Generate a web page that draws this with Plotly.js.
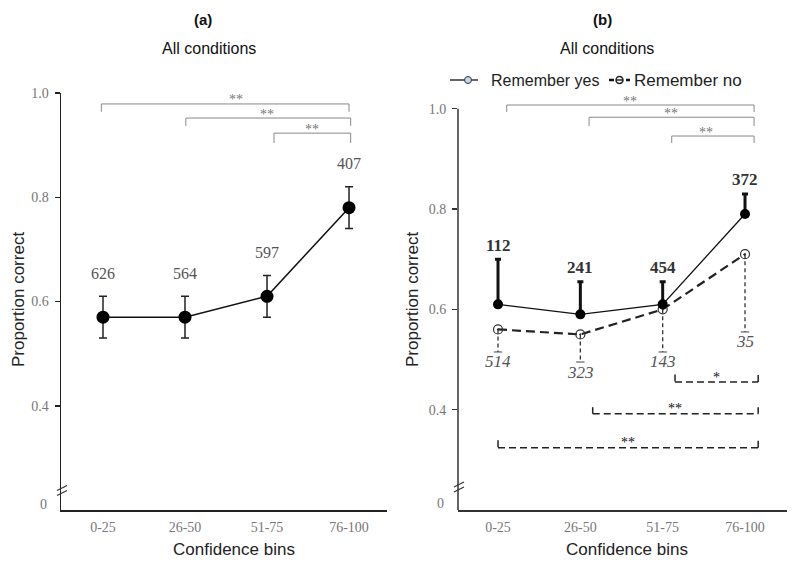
<!DOCTYPE html>
<html>
<head>
<meta charset="utf-8">
<script src="https://cdn.plot.ly/plotly-3.0.1.min.js"></script>
<style>
  html, body { margin: 0; padding: 0; background: #fff; }
  #chart { width: 800px; height: 567px; }
</style>
</head>
<body>
<div id="chart"></div>
<script>
// Confidence bins shared by both panels
const bins = ['0-25', '26-50', '51-75', '76-100'];

// Panel (a): all conditions
const allProp = [0.57, 0.57, 0.61, 0.78];
const allErr = [0.04, 0.04, 0.04, 0.04];
const allN = [626, 564, 597, 407];

// Panel (b): split by "remember" response
const yesProp = [0.61, 0.59, 0.61, 0.79];
const yesErrUp = [0.09, 0.065, 0.045, 0.04];
const yesN = [112, 241, 454, 372];

const noProp = [0.56, 0.55, 0.60, 0.71];
const noErrDown = [0.045, 0.055, 0.085, 0.155];
const noN = [514, 323, 143, 35];

// Y tick labels (the axis is broken below 0.4)
const yTickVals = [0.4, 0.6, 0.8, 1.0];
const yTickText = ['0.4', '0.6', '0.8', '1.0'];

// Pixel -> paper helpers for the decorations
const W = 800, H = 567;
const px = x => x / W;
const py = y => 1 - y / H;

const SANS = 'Liberation Sans, Arial, sans-serif';
const SERIF = 'Liberation Serif, Times New Roman, serif';

const traces = [];

// ---- Panel (a)
traces.push({
  type: 'scatter', mode: 'lines+markers',
  x: bins, y: allProp, xaxis: 'x', yaxis: 'y',
  line: { color: '#111', width: 1.5 },
  marker: { color: '#000', size: 13 },
  error_y: { type: 'data', array: allErr, color: '#222', thickness: 1.5, width: 4 },
  showlegend: false, hoverinfo: 'skip'
});

// ---- Panel (b): remember no (dashed line, open markers, dashed downward bars)
noProp.forEach((v, i) => {
  traces.push({
    type: 'scatter', mode: 'lines+markers',
    x: [bins[i], bins[i]], y: [v, v - noErrDown[i]],
    xaxis: 'x2', yaxis: 'y2',
    line: { color: '#333', width: 1.3, dash: '4px,3px' },
    marker: { symbol: ['circle', 'line-ew-open'], size: [0, 6], color: '#333', line: { color: '#333', width: 1.3 } },
    showlegend: false, hoverinfo: 'skip'
  });
});
traces.push({
  type: 'scatter', mode: 'lines+markers',
  x: bins, y: noProp, xaxis: 'x2', yaxis: 'y2',
  line: { color: '#222', width: 2.2, dash: '9px,5px' },
  marker: { symbol: 'circle-open-dot', size: 9, color: '#333', line: { width: 1.2, color: '#333' } },
  showlegend: false, hoverinfo: 'skip'
});

// ---- Panel (b): remember yes (solid line, filled markers, upward bars)
traces.push({
  type: 'scatter', mode: 'lines+markers',
  x: bins, y: yesProp, xaxis: 'x2', yaxis: 'y2',
  line: { color: '#111', width: 1.3 },
  marker: { color: '#000', size: 10 },
  error_y: {
    type: 'data', symmetric: false, array: yesErrUp,
    arrayminus: yesProp.map(() => 0), color: '#111', thickness: 3, width: 3
  },
  showlegend: false, hoverinfo: 'skip'
});

const annotations = [];
const shapes = [];

// Panel headings
[['<b>(a)</b>', 203, 19, 15], ['All conditions', 209, 48, 16],
 ['<b>(b)</b>', 602, 19, 15], ['All conditions', 607, 48, 16]].forEach(([t, x, y, s]) => {
  annotations.push({ text: t, xref: 'paper', yref: 'paper', x: px(x), y: py(y),
    xanchor: 'center', yanchor: 'middle', showarrow: false,
    font: { family: SANS, size: s, color: '#111' } });
});

// Axis titles
[[18, 300], [412, 300]].forEach(([x, y]) => {
  annotations.push({ text: 'Proportion correct', xref: 'paper', yref: 'paper',
    x: px(x), y: py(y), textangle: -90, showarrow: false,
    xanchor: 'center', yanchor: 'middle', font: { family: SANS, size: 17, color: '#222' } });
});
[[234, 549], [627, 549]].forEach(([x, y]) => {
  annotations.push({ text: 'Confidence bins', xref: 'paper', yref: 'paper',
    x: px(x), y: py(y), showarrow: false,
    xanchor: 'center', yanchor: 'middle', font: { family: SANS, size: 17, color: '#222' } });
});

// "0" labels at the broken axis bottom
[[43, 504], [440, 503]].forEach(([x, y]) => {
  annotations.push({ text: '0', xref: 'paper', yref: 'paper', x: px(x), y: py(y),
    showarrow: false, xanchor: 'center', yanchor: 'middle',
    font: { family: SERIF, size: 14, color: '#777' } });
});

// Axis break marks
[[57, 490.5], [454, 487]].forEach(([x, y]) => {
  [-2.5, 2.5].forEach(d => {
    shapes.push({ type: 'line', xref: 'paper', yref: 'paper',
      x0: px(x), y0: py(y + d + 2.5), x1: px(x + 10), y1: py(y + d - 2.5),
      line: { color: '#333', width: 1.2 } });
  });
});

// Count labels
bins.forEach((b, i) => {
  annotations.push({ text: String(allN[i]), xref: 'x', yref: 'y', x: b, y: allProp[i] + allErr[i],
    yshift: 23, showarrow: false, font: { family: SERIF, size: 16, color: '#555' } });
  annotations.push({ text: '<b>' + yesN[i] + '</b>', xref: 'x2', yref: 'y2', x: b, y: yesProp[i] + yesErrUp[i],
    yshift: 14, showarrow: false, font: { family: SERIF, size: 17, color: '#333' } });
  annotations.push({ text: '<i>' + noN[i] + '</i>', xref: 'x2', yref: 'y2', x: b, y: noProp[i] - noErrDown[i],
    yshift: -10, showarrow: false, font: { family: SERIF, size: 17, color: '#555' } });
});

// Significance brackets: [x0, x1, yLine, yEnd, label, labelX]
const bracketsA = [
  [-0.02, 3.0, 0.979, 0.964, '**', 1.62],
  [1.01, 3.02, 0.952, 0.937, '**', 2.0],
  [2.085, 3.02, 0.923, 0.904, '**', 2.55]
];
const bracketsBTop = [
  [0.106, 3.11, 1.0074, 0.9934, '**', 1.6],
  [1.106, 3.11, 0.983, 0.9655, '**', 2.1],
  [2.11, 3.11, 0.9456, 0.9316, '**', 2.53]
];
const bracketsBBottom = [
  [2.15, 3.16, 0.455, 0.470, '*', 2.65],
  [1.15, 3.16, 0.392, 0.405, '**', 2.15],
  [0.0, 3.16, 0.324, 0.339, '**', 1.58]
];

function drawBracket(b, xr, yr, lineStyle, starFont, starShift) {
  const [x0, x1, yl, ye, label, lx] = b;
  [[x0, ye, x0, yl], [x0, yl, x1, yl], [x1, yl, x1, ye]].forEach(([a, c, d, e]) => {
    shapes.push({ type: 'line', xref: xr, yref: yr, x0: a, y0: c, x1: d, y1: e, line: lineStyle });
  });
  annotations.push({ text: label, xref: xr, yref: yr, x: lx, y: yl, yanchor: 'middle',
    yshift: starShift, showarrow: false, font: starFont });
}
bracketsA.forEach(b => drawBracket(b, 'x', 'y', { color: '#888', width: 1 },
  { family: SERIF, size: 14, color: '#777' }, 4));
bracketsBTop.forEach(b => drawBracket(b, 'x2', 'y2', { color: '#888', width: 1 },
  { family: SERIF, size: 14, color: '#777' }, 4));
bracketsBBottom.forEach(b => drawBracket(b, 'x2', 'y2', { color: '#222', width: 1.5, dash: '7px,4px' },
  { family: SERIF, size: 14, color: '#111' }, 5));

// Panel (b) vertical axis line, ending at 1.0
shapes.push({ type: 'line', xref: 'x2 domain', yref: 'y2', x0: 0, x1: 0, y0: 0.2, y1: 1.0,
  line: { color: '#333', width: 1.5 } });

// Legend for panel (b)
shapes.push({ type: 'line', xref: 'paper', yref: 'paper', x0: px(450), x1: px(478), y0: py(80), y1: py(80),
  line: { color: '#111', width: 1.3 } });
shapes.push({ type: 'circle', xref: 'paper', yref: 'paper', x0: px(464.5), x1: px(471.5), y0: py(83.5), y1: py(76.5),
  fillcolor: '#c5d6ee', line: { color: '#333', width: 1 } });
annotations.push({ text: 'Remember yes', xref: 'paper', yref: 'paper', x: px(489), y: py(80),
  xanchor: 'left', yanchor: 'middle', showarrow: false, font: { family: SANS, size: 16, color: '#222' } });
shapes.push({ type: 'line', xref: 'paper', yref: 'paper', x0: px(609), x1: px(614), y0: py(80), y1: py(80),
  line: { color: '#111', width: 2.5 } });
shapes.push({ type: 'circle', xref: 'paper', yref: 'paper', x0: px(616), x1: px(623), y0: py(83.5), y1: py(76.5),
  fillcolor: '#fff', line: { color: '#222', width: 1.5 } });
shapes.push({ type: 'line', xref: 'paper', yref: 'paper', x0: px(616), x1: px(623), y0: py(80), y1: py(80),
  line: { color: '#222', width: 1.5 } });
shapes.push({ type: 'line', xref: 'paper', yref: 'paper', x0: px(626), x1: px(630), y0: py(80), y1: py(80),
  line: { color: '#111', width: 2.5 } });
annotations.push({ text: 'Remember no', xref: 'paper', yref: 'paper', x: px(632), y: py(80),
  xanchor: 'left', yanchor: 'middle', showarrow: false, font: { family: SANS, size: 17, color: '#222' } });

const xBase = {
  type: 'category', showline: true, linewidth: 1.5, ticks: '', showgrid: false, zeroline: false,
  tickfont: { family: SERIF, size: 14, color: '#777' }, ticklabelstandoff: 4, fixedrange: true
};
const yBase = {
  showgrid: false, zeroline: false, ticks: 'outside', ticklen: 5, tickwidth: 1.5,
  tickvals: yTickVals, ticktext: yTickText, ticklabelstandoff: 3,
  tickfont: { family: SERIF, size: 14, color: '#777' }, fixedrange: true
};

const layout = {
  width: W, height: H,
  margin: { l: 0, r: 0, t: 0, b: 0 },
  paper_bgcolor: '#fff', plot_bgcolor: '#fff',
  showlegend: false,
  xaxis: Object.assign({}, xBase, { domain: [px(61), px(387)], range: [-0.512, 3.463], anchor: 'y', linecolor: '#222' }),
  yaxis: Object.assign({}, yBase, { domain: [py(510), py(93)], range: [0.2, 1.0], anchor: 'x',
    showline: true, linecolor: '#222', linewidth: 1.5, tickcolor: '#222' }),
  xaxis2: Object.assign({}, xBase, { domain: [px(458), px(787)], range: [-0.486, 3.51], anchor: 'y2', linecolor: '#333' }),
  yaxis2: Object.assign({}, yBase, { domain: [py(510), py(103.7)], range: [0.2, 1.01], anchor: 'x2',
    showline: false, tickcolor: '#333' }),
  annotations: annotations,
  shapes: shapes
};

Plotly.newPlot('chart', traces, layout, { staticPlot: true, displayModeBar: false });
</script>
</body>
</html>
